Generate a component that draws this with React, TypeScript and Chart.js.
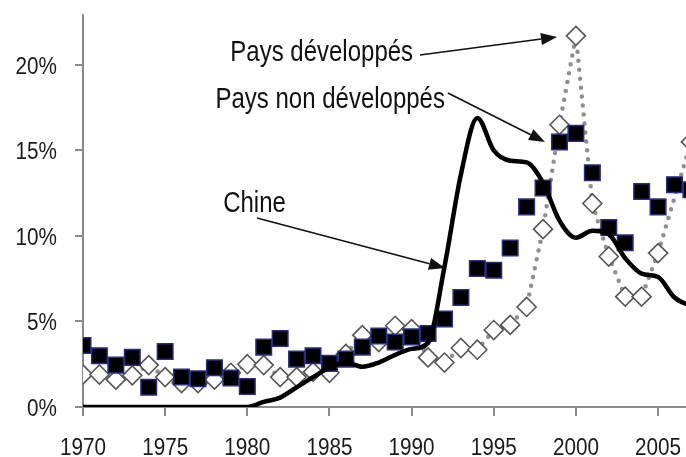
import { useEffect, useRef } from "react";
import { Chart, registerables } from "chart.js";

Chart.register(...registerables);

const FONT = "'Liberation Sans', Arial, sans-serif";

const years = [
  1970, 1971, 1972, 1973, 1974, 1975, 1976, 1977, 1978, 1979,
  1980, 1981, 1982, 1983, 1984, 1985, 1986, 1987, 1988, 1989,
  1990, 1991, 1992, 1993, 1994, 1995, 1996, 1997, 1998, 1999,
  2000, 2001, 2002, 2003, 2004, 2005, 2006, 2007,
];

// Chine (solid smoothed line), %
const chine = [
  0, 0, 0, 0, 0, 0, 0, 0, 0, 0,
  0, 0.3, 0.55, 1.15, 1.75, 2.3, 2.6, 2.35, 2.6, 3.05,
  3.4, 3.75, 8.2, 13.6, 16.9, 15.0, 14.4, 14.3, 13.1, 10.9,
  9.9, 10.3, 10.1, 8.7, 7.8, 7.6, 6.4, 5.9,
];

// Pays non développés (black squares), %
const nonDev = [
  3.6, 3.0, 2.45, 2.9, 1.15, 3.25, 1.75, 1.65, 2.3, 1.7,
  1.2, 3.5, 4.0, 2.8, 3.0, 2.55, 2.8, 3.5, 4.15, 3.8,
  4.1, 4.3, 5.15, 6.4, 8.1, 8.0, 9.3, 11.7, 12.8, 15.5,
  16.0, 13.7, 10.5, 9.6, 12.6, 11.7, 13.0, 12.7,
];

// Pays développés (white diamonds, dotted line), %
const dev = [
  1.9, 1.9, 1.6, 1.85, 2.45, 1.75, 1.4, 1.4, 1.6, 2.0,
  2.5, 2.45, 1.75, 1.75, 2.05, 2.0, 3.1, 4.2, 3.8, 4.75,
  4.55, 2.9, 2.6, 3.45, 3.35, 4.5, 4.8, 5.85, 10.4, 16.5,
  21.7, 11.9, 8.8, 6.45, 6.45, 9.0, null, 15.5,
];

const xTickValues = [1970, 1975, 1980, 1985, 1990, 1995, 2000, 2005];
const yTickValues = [0, 5, 10, 15, 20];

const seriesNames = ["Chine", "Pays non développés", "Pays développés"];

// Text labels with arrows, in data units (year, %)
const annotations = [
  { text: "Pays développés", at: [1990.09, 20.23], align: "right", from: [1990.51, 20.58], to: [1998.85, 21.64] },
  { text: "Pays non développés", at: [1992.03, 17.49], align: "right", from: [1992.21, 18.36], to: [1998.12, 15.5] },
  { text: "Chine", at: [1980.44, 11.4], align: "center", from: [1980.59, 11.05], to: [1992.03, 8.13] },
];

const toXY = (vals: (number | null)[]) => years.map((yr, i) => ({ x: yr, y: vals[i] }));

// Draws condensed (horizontally squeezed) text, like the narrow face in the reference
function narrowText(ctx: CanvasRenderingContext2D, text: string, x: number, y: number, align: CanvasTextAlign, size: number, squeeze: number) {
  ctx.save();
  ctx.translate(x, y);
  ctx.scale(squeeze, 1);
  ctx.font = `${size}px ${FONT}`;
  ctx.textAlign = align;
  ctx.textBaseline = "alphabetic";
  ctx.fillText(text, 0, 0);
  ctx.restore();
}

const labelPlugin = {
  id: "labelsAndArrows",
  afterDraw(chart: any) {
    const { ctx } = chart;
    const xs = chart.scales.x;
    const ys = chart.scales.y;
    ctx.save();
    // tick labels
    ctx.fillStyle = "#1a1a1a";
    for (const v of yTickValues) {
      narrowText(ctx, `${v}%`, xs.left - 26, ys.getPixelForValue(v) + 9, "right", 23, 0.9);
    }
    for (const v of xTickValues) {
      narrowText(ctx, String(v), xs.getPixelForValue(v), ys.bottom + 48, "center", 23, 0.9);
    }
    // annotations
    ctx.fillStyle = "#111111";
    ctx.strokeStyle = "#111111";
    for (const a of annotations) {
      narrowText(ctx, a.text, xs.getPixelForValue(a.at[0]), ys.getPixelForValue(a.at[1]), a.align as CanvasTextAlign, 30, 0.8);
      const x1 = xs.getPixelForValue(a.from[0]);
      const y1 = ys.getPixelForValue(a.from[1]);
      const x2 = xs.getPixelForValue(a.to[0]);
      const y2 = ys.getPixelForValue(a.to[1]);
      const ang = Math.atan2(y2 - y1, x2 - x1);
      const head = 16;
      const half = 6;
      const c = Math.cos(ang);
      const s = Math.sin(ang);
      const bx = x2 - head * c;
      const by = y2 - head * s;
      ctx.lineWidth = 1.6;
      ctx.beginPath();
      ctx.moveTo(x1, y1);
      ctx.lineTo(bx, by);
      ctx.stroke();
      ctx.beginPath();
      ctx.moveTo(x2, y2);
      ctx.lineTo(bx + half * s, by - half * c);
      ctx.lineTo(bx - half * s, by + half * c);
      ctx.closePath();
      ctx.fill();
    }
    ctx.restore();
  },
};

export default function App() {
  const canvasRef = useRef<HTMLCanvasElement | null>(null);

  useEffect(() => {
    document.body.style.margin = "0";
    const canvas = canvasRef.current;
    if (!canvas) return;
    const chart = new Chart(canvas, {
      type: "line",
      data: {
        datasets: [
          {
            label: seriesNames[0],
            data: toXY(chine),
            borderColor: "#000000",
            borderWidth: 4.5,
            pointRadius: 0,
            cubicInterpolationMode: "monotone",
            fill: false,
            order: 0,
          },
          {
            label: seriesNames[1],
            data: toXY(nonDev),
            showLine: false,
            pointStyle: "rect",
            pointRadius: 11,
            pointBackgroundColor: "#000000",
            pointBorderColor: "#2b2b85",
            pointBorderWidth: 1.5,
            order: 1,
          },
          {
            label: seriesNames[2],
            data: toXY(dev),
            borderColor: "#8f8f8f",
            borderWidth: 4.5,
            borderDash: [0, 9],
            borderCapStyle: "round",
            tension: 0,
            spanGaps: true,
            pointStyle: "rectRot",
            pointRadius: 9.5,
            pointBackgroundColor: "#ffffff",
            pointBorderColor: "#555555",
            pointBorderWidth: 1.6,
            order: 2,
          },
        ],
      } as any,
      options: {
        animation: false,
        responsive: false,
        events: [],
        layout: { autoPadding: false, padding: { top: 15, right: 0, left: 0, bottom: 0 } },
        plugins: {
          legend: { display: false },
          tooltip: { enabled: false },
        },
        scales: {
          x: {
            type: "linear",
            min: 1970,
            max: 2006.7,
            afterFit(s: any) {
              s.height = 50;
              s.paddingLeft = 0;
              s.paddingRight = 0;
            },
            afterBuildTicks(s: any) {
              s.ticks = xTickValues.map((v) => ({ value: v }));
            },
            ticks: { display: false },
            grid: { drawOnChartArea: false, tickLength: 9, color: "#8a8a8a", lineWidth: 2 },
            border: { display: true, color: "#8a8a8a", width: 2 },
          },
          y: {
            type: "linear",
            min: 0,
            max: 22.92,
            afterFit(s: any) {
              s.width = 83;
              s.paddingTop = 0;
              s.paddingBottom = 0;
            },
            afterBuildTicks(s: any) {
              s.ticks = yTickValues.map((v) => ({ value: v }));
            },
            ticks: { display: false },
            grid: { drawOnChartArea: false, tickLength: 8, color: "#8a8a8a", lineWidth: 2 },
            border: { display: true, color: "#8a8a8a", width: 2 },
          },
        },
      } as any,
      plugins: [labelPlugin],
    });
    return () => chart.destroy();
  }, []);

  return (
    <div style={{ width: 686, height: 457, background: "#ffffff" }}>
      <canvas ref={canvasRef} width={686} height={457} style={{ display: "block" }} />
    </div>
  );
}
